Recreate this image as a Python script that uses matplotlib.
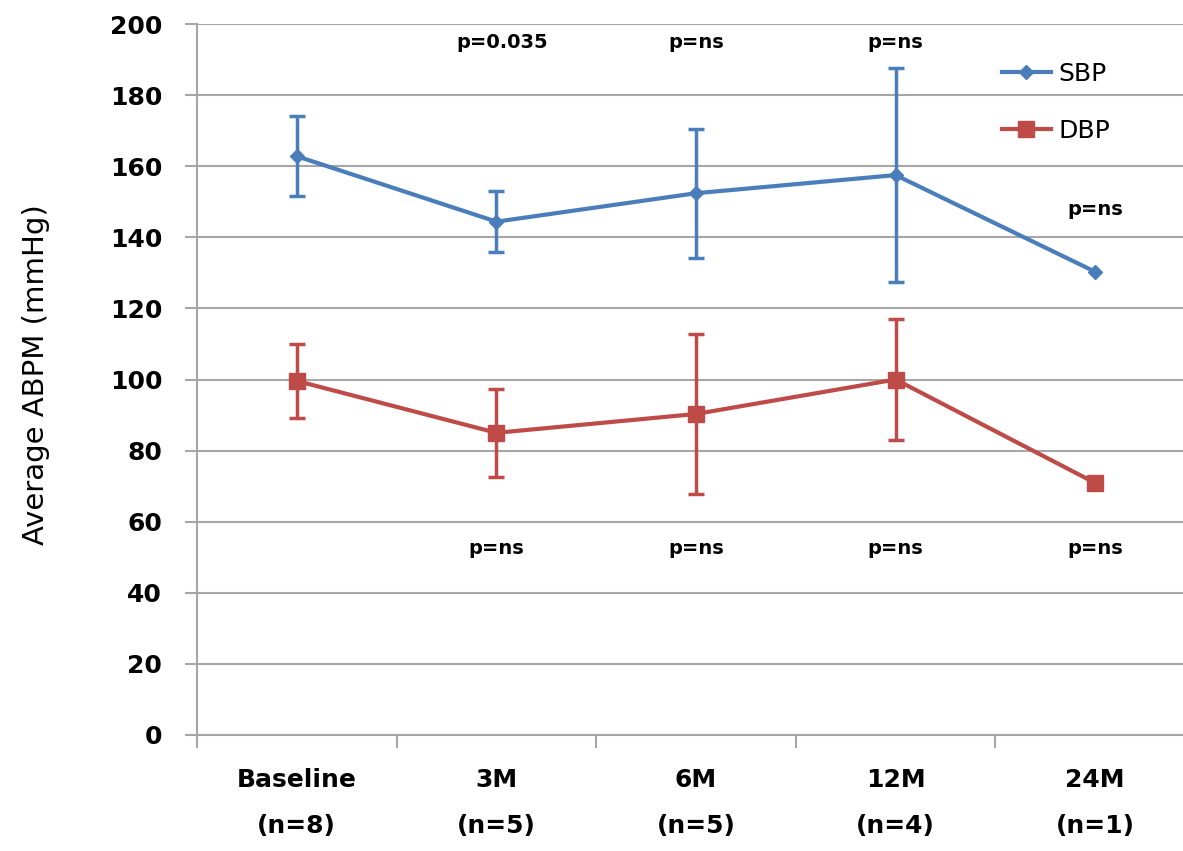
import numpy as np
import matplotlib
matplotlib.use("Agg")
import matplotlib.pyplot as plt
from matplotlib.lines import Line2D

# ---- data ----
categories = ["Baseline\n(n=8)", "3M\n(n=5)", "6M\n(n=5)", "12M\n(n=4)", "24M\n(n=1)"]
sbp = [162.8, 144.4, 152.4, 157.5, 130.3]
sbp_err = [11.2, 8.6, 18.2, 30.1, np.nan]
dbp = [99.6, 85.0, 90.3, 100.0, 70.9]
dbp_err = [10.4, 12.3, 22.5, 17.0, np.nan]
series_names = ["SBP", "DBP"]
yticks = [0, 20, 40, 60, 80, 100, 120, 140, 160, 180, 200]

# p-value annotations: (category index, y value, text)
p_top_pos = [1.03, 2, 3, 4]
p_top_y = [194.7, 194.7, 194.7, 147.7]
p_top_txt = ["p=0.035", "p=ns", "p=ns", "p=ns"]
p_bot_pos = [1, 2, 3, 4]
p_bot_y = [52.6, 52.6, 52.6, 52.6]
p_bot_txt = ["p=ns", "p=ns", "p=ns", "p=ns"]

blue = "#4A7EBB"
red = "#BE4B48"
grid_c = "#A6A6A6"

W, H = 1183, 851
fig = plt.figure(figsize=(W / 100, H / 100), dpi=100)
ax = fig.add_axes([197 / W, 1 - 735 / H, (1195 - 197) / W, (735 - 24) / H])

x = np.arange(len(categories))

ax.errorbar(x, sbp, yerr=sbp_err, color=blue, lw=3, marker="D", markersize=7.5,
            ecolor=blue, elinewidth=2.5, capsize=6, capthick=2.5, zorder=3)
ax.errorbar(x, dbp, yerr=dbp_err, color=red, lw=3, marker="s", markersize=11,
            ecolor=red, elinewidth=2.5, capsize=6, capthick=2.5, zorder=3)

ax.set_xlim(-0.5, len(categories) - 0.5)
ax.set_ylim(0, 200)
ax.set_yticks(yticks)
ax.set_yticklabels([str(v) for v in yticks], fontsize=18, fontweight="bold")
ax.yaxis.grid(True, color=grid_c, lw=1.5)
ax.set_axisbelow(True)

ax.set_xticks(x)
ax.set_xticklabels(categories, fontsize=18, fontweight="bold", linespacing=2.15)
ax.set_xticks(np.arange(len(categories) + 1) - 0.5, minor=True)
ax.tick_params(axis="x", which="major", length=0, pad=24)
ax.tick_params(axis="x", which="minor", length=9, width=1.5, color=grid_c)
ax.tick_params(axis="y", length=9, width=1.5, color=grid_c, pad=16)

for s in ["top", "right"]:
    ax.spines[s].set_visible(False)
ax.spines["left"].set_color(grid_c)
ax.spines["left"].set_linewidth(1.5)
ax.spines["bottom"].set_color(grid_c)
ax.spines["bottom"].set_linewidth(1.5)

ax.set_ylabel("Average ABPM (mmHg)", fontsize=21)
ax.yaxis.set_label_coords((50 - 197) / (1195 - 197), (735 - 375) / (735 - 24))

for xp, yp, t in zip(p_top_pos, p_top_y, p_top_txt):
    ax.text(xp, yp, t, ha="center", va="center", fontsize=14, fontweight="bold")
for xp, yp, t in zip(p_bot_pos, p_bot_y, p_bot_txt):
    ax.text(xp, yp, t, ha="center", va="center", fontsize=14, fontweight="bold")

handles = [Line2D([], [], color=blue, lw=3, marker="D", markersize=7.5),
           Line2D([], [], color=red, lw=3, marker="s", markersize=11)]
fig.legend(handles, series_names, loc="upper left", bbox_to_anchor=(1002 / W, 1 - 62 / H),
           frameon=False, fontsize=18, handlelength=1.95, handletextpad=0.3,
           labelspacing=1.3, borderpad=0, borderaxespad=0)

fig.savefig("out.png", dpi=100, facecolor="white")
